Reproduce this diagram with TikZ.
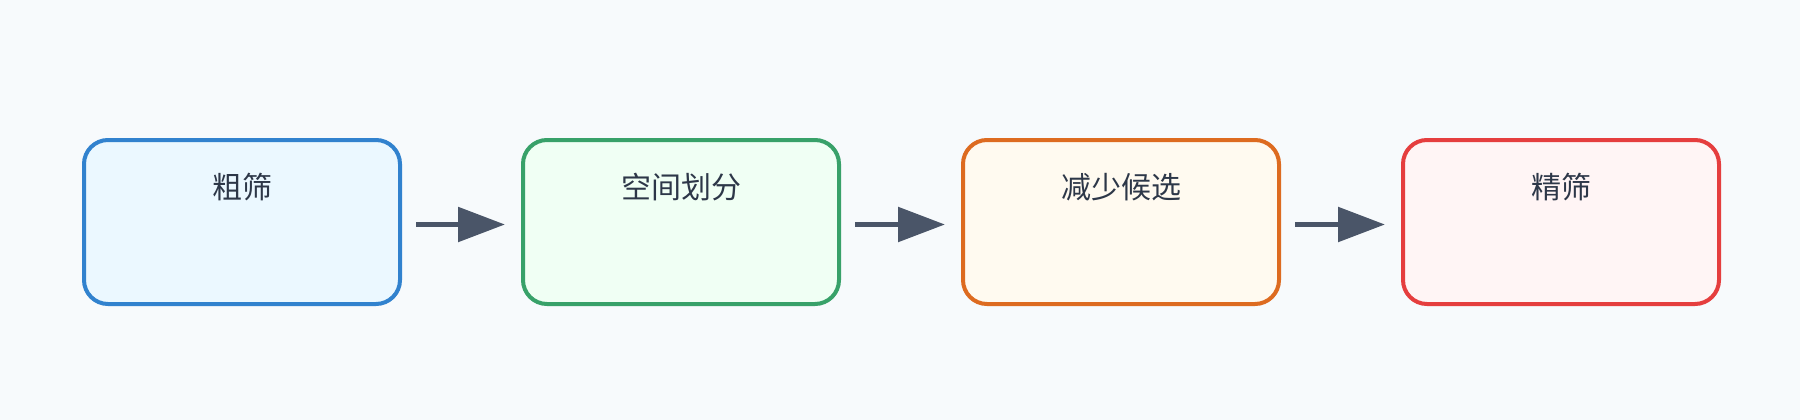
\documentclass[tikz,border=0pt]{standalone}
\usepackage{fontspec}
\newfontfamily\cjk{Noto Sans CJK SC}
\usetikzlibrary{arrows.meta}
\definecolor{bg}{HTML}{F7FAFC}
\definecolor{txt}{HTML}{2D3748}
\definecolor{arr}{HTML}{4A5568}
\definecolor{bB}{HTML}{3182CE}\definecolor{fB}{HTML}{EBF8FF}
\definecolor{bG}{HTML}{38A169}\definecolor{fG}{HTML}{F0FFF4}
\definecolor{bO}{HTML}{DD6B20}\definecolor{fO}{HTML}{FFFAF0}
\definecolor{bR}{HTML}{E53E3E}\definecolor{fR}{HTML}{FFF5F5}
\tikzset{
  stagebox/.style={draw=#1, line width=4pt, rounded corners=24pt, minimum width=316pt, minimum height=164pt, inner sep=0pt},
  stagelabel/.style={text=txt, font=\cjk\fontsize{30pt}{34pt}\selectfont, inner sep=0pt},
  flow/.style={draw=arr, line width=5.5pt, -{Triangle[length=47pt,width=34pt]}}
}
\begin{document}
\begin{tikzpicture}[x=1pt,y=-1pt]
\fill[bg] (0,0) rectangle (1800,420);
\useasboundingbox (0,0) rectangle (1800,420);
\node[stagebox=bB, fill=fB] (b1) at (242,222) {};
\node[stagebox=bG, fill=fG] (b2) at (681,222) {};
\node[stagebox=bO, fill=fO] (b3) at (1121,222) {};
\node[stagebox=bR, fill=fR] (b4) at (1561,222) {};
\node[stagelabel] (t1) at (242,187) {粗筛};
\node[stagelabel] (t2) at (681,187) {空间划分};
\node[stagelabel] (t3) at (1121,187) {减少候选};
\node[stagelabel] (t4) at (1561,187) {精筛};
\draw[flow] ([xshift=14pt,yshift=-2.5pt]b1.east) -- ([xshift=-16pt,yshift=-2.5pt]b2.west);
\draw[flow] ([xshift=14pt,yshift=-2.5pt]b2.east) -- ([xshift=-16pt,yshift=-2.5pt]b3.west);
\draw[flow] ([xshift=14pt,yshift=-2.5pt]b3.east) -- ([xshift=-16pt,yshift=-2.5pt]b4.west);
\end{tikzpicture}
\end{document}
